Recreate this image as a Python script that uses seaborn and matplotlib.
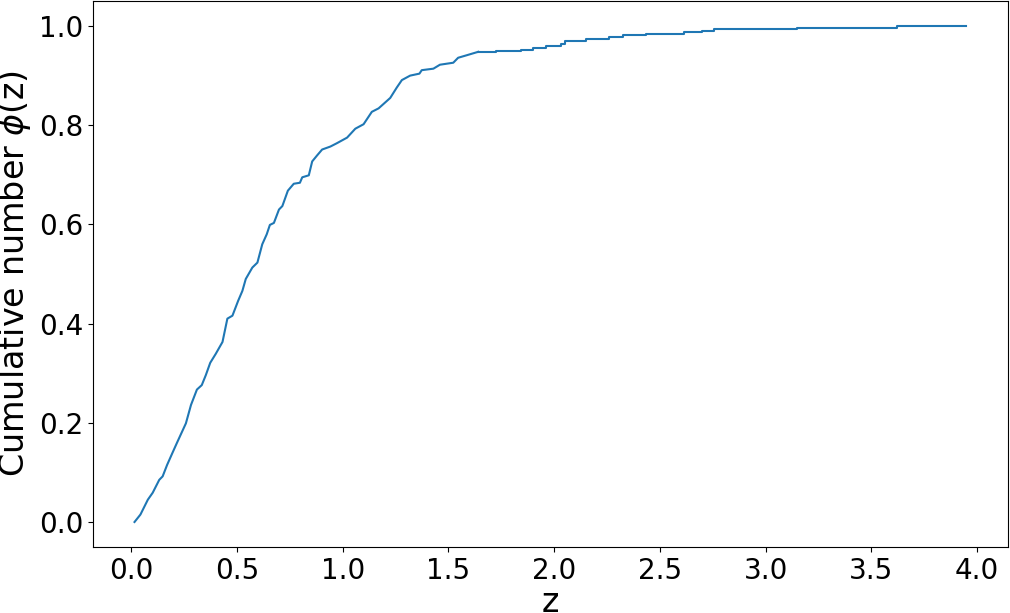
import numpy as np
import pandas as pd
import matplotlib
matplotlib.use('Agg')
import matplotlib.pyplot as plt
import seaborn as sns

# --- values --- #
# steep part (drawn as a plain line)
z_rise = [0.016, 0.044, 0.079, 0.102, 0.133, 0.149, 0.170, 0.196, 0.216, 0.259,
          0.283, 0.311, 0.334, 0.353, 0.374, 0.400, 0.432, 0.455, 0.479, 0.506,
          0.526, 0.542, 0.573, 0.597, 0.620, 0.641, 0.656, 0.675, 0.699, 0.715,
          0.741, 0.769, 0.798, 0.809, 0.840, 0.856, 0.879, 0.903, 0.942, 0.974,
          1.021, 1.060, 1.099, 1.138, 1.170, 1.225, 1.256, 1.280, 1.319, 1.363,
          1.374, 1.429, 1.460, 1.523, 1.546, 1.586, 1.641]
phi_rise = [0.000, 0.015, 0.045, 0.059, 0.085, 0.092, 0.115, 0.140, 0.159, 0.199,
            0.236, 0.267, 0.276, 0.296, 0.321, 0.339, 0.363, 0.410, 0.416, 0.446,
            0.466, 0.490, 0.513, 0.523, 0.560, 0.580, 0.599, 0.603, 0.630, 0.637,
            0.668, 0.682, 0.684, 0.695, 0.699, 0.727, 0.739, 0.751, 0.757, 0.764,
            0.775, 0.793, 0.802, 0.827, 0.834, 0.855, 0.876, 0.891, 0.900, 0.904,
            0.911, 0.914, 0.922, 0.926, 0.936, 0.941, 0.948]

# flat tail (steps at each jump)
z_tail = [1.641, 1.727, 1.845, 1.900, 1.963, 2.033, 2.049, 2.151, 2.261, 2.324,
          2.434, 2.614, 2.700, 2.755, 2.905, 3.148, 3.619, 3.949]
phi_tail = [0.948, 0.950, 0.952, 0.955, 0.960, 0.963, 0.969, 0.973, 0.978, 0.981,
            0.984, 0.987, 0.990, 0.993, 0.995, 0.997, 1.000, 1.000]

rise = pd.DataFrame({'z': z_rise, 'phi': phi_rise})
tail = pd.DataFrame({'z': z_tail, 'phi': phi_tail})

fig, ax = plt.subplots(figsize=(10.1, 6.13), dpi=100)
sns.lineplot(data=rise, x='z', y='phi', sort=False, estimator=None,
             color='tab:blue', linewidth=1.5, ax=ax)
sns.lineplot(data=tail, x='z', y='phi', sort=False, estimator=None,
             color='tab:blue', linewidth=1.5, drawstyle='steps-post', ax=ax)

ax.set_xlabel('z', fontsize=24, labelpad=1)
ax.set_ylabel(r'Cumulative number $\phi$(z)', fontsize=24)
ax.set_xticks(np.arange(0, 4.01, 0.5))
ax.tick_params(labelsize=20)
ax.margins(0.05)

plt.subplots_adjust(left=0.092, right=0.998, top=0.998, bottom=0.108)
plt.savefig('out.png', dpi=100)
